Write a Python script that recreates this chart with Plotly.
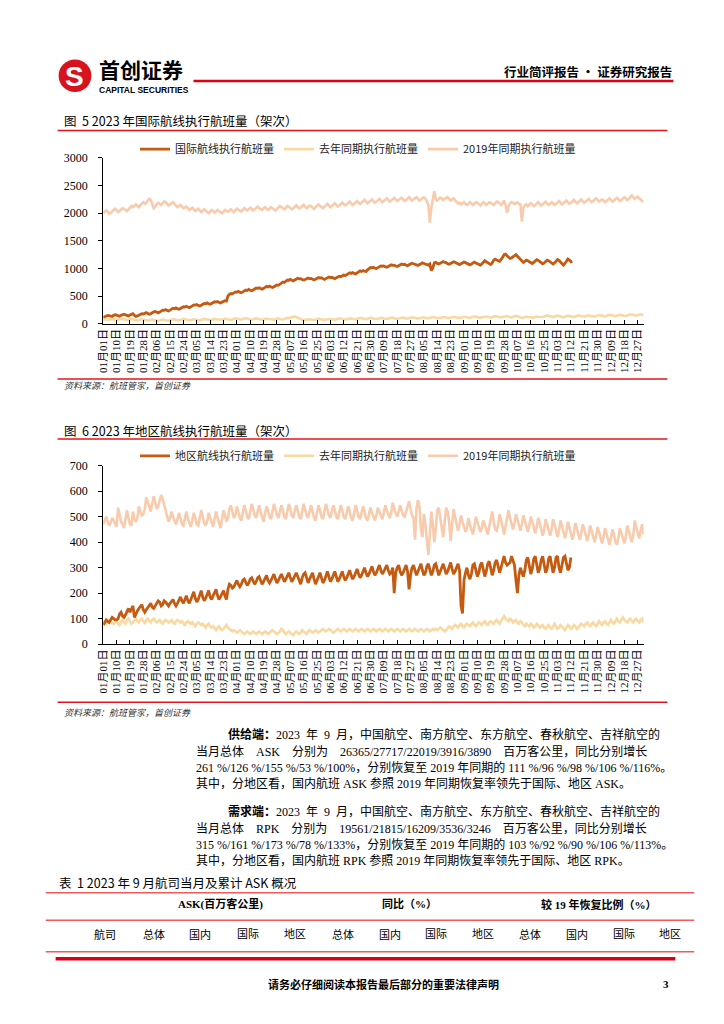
import plotly.graph_objects as go

# The page body has an 8px default margin; the figure is sized/offset so that
# page coordinates (x, y) in the 724x1024 screenshot map onto figure paper coords.
OFF = 8
FW, FH = 708, 1008
def px(x): return (x - OFF) / FW
def py(y): return 1 - (y - OFF) / FH

SERIF = "Liberation Serif, Noto Sans CJK SC"
CJK = "Noto Sans CJK SC"
NB = "\u00a0"

tick_labels = ["01月01日","01月10日","01月19日","01月28日","02月06日","02月15日","02月24日",
               "03月05日","03月14日","03月23日","04月01日","04月10日","04月19日","04月28日",
               "05月07日","05月16日","05月25日","06月03日","06月12日","06月21日","06月30日",
               "07月09日","07月18日","07月27日","08月05日","08月14日","08月23日","09月01日",
               "09月10日","09月19日","09月28日","10月07日","10月16日","10月25日","11月03日",
               "11月12日","11月21日","11月30日","12月09日","12月18日","12月27日"]
tick_days = [0,9,18,27,36,45,54,63,72,81,90,99,108,117,126,135,144,153,162,171,180,
             189,198,207,216,225,234,243,252,261,270,279,288,297,306,315,324,333,342,351,360]

# ---------- Figure 5: international routes (daily) ----------
intl_2023 = [115,125,140,150,145,135,130,
150,160,155,140,135,150,165,
170,160,145,140,155,175,180,
150,130,140,155,170,180,175,
190,200,185,170,180,205,215,
220,205,195,210,230,245,240,
255,240,230,245,265,280,270,
285,270,260,275,295,305,300,
315,300,290,305,325,340,335,
345,330,320,335,355,365,360,
375,360,350,365,385,395,390,
400,385,375,390,405,415,410,
500,530,545,540,560,575,570,
585,570,560,575,595,610,600,
620,605,595,610,630,645,640,
650,635,625,640,660,675,665,
680,665,655,670,690,700,695,
720,740,755,745,770,790,785,
800,785,775,790,810,820,810,
815,800,790,800,815,825,815,
820,805,795,805,820,835,825,
830,815,800,815,835,845,835,
840,825,815,830,850,860,850,
865,880,870,885,905,920,910,
925,910,900,920,940,955,945,
960,950,945,975,1000,1015,1010,
1020,1005,1000,1015,1035,1045,1040,
1045,1030,1020,1035,1055,1065,1055,
1060,1045,1035,1050,1070,1080,1070,
1075,1060,1050,1065,1085,1095,1085,
1080,1065,1055,1070,1090,1100,1090,
1085,1070,1060,1080,960,1010,1100,
1110,1090,1080,1095,1115,1125,1110,
1105,1085,1075,1090,1110,1120,1110,
1100,1080,1070,1085,1105,1115,1105,
1095,1075,1065,1080,1100,1115,1100,
1090,1070,1060,1080,1110,1140,1120,
1100,1080,1070,1100,1150,1170,1150,
1140,1130,1160,1200,1250,1260,1230,
1200,1180,1190,1210,1230,1250,1220,
1190,1150,1120,1110,1130,1150,1140,
1120,1100,1090,1110,1140,1160,1145,
1125,1100,1085,1100,1130,1150,1140,
1120,1095,1080,1100,1135,1160,1145,
1110,1080,1060,1090,1140,1170,1150,
1120,1130]

intl_lastyear = [80,75,70,65,70,80,85,
80,70,65,70,80,90,85,
75,70,65,70,80,85,80,
70,60,55,60,70,80,75,
65,60,55,60,70,75,70,
60,55,50,55,65,75,70,
60,55,50,60,70,80,75,
65,60,55,65,75,85,80,
70,65,60,65,75,80,75,
70,60,55,65,75,85,80,
75,65,60,65,75,85,80,
75,70,65,70,80,90,85,
75,70,65,75,85,95,90,
85,80,75,85,95,100,95,
80,75,70,80,90,95,90,
80,75,70,75,85,90,85,
80,70,65,70,80,90,95,
85,80,75,85,95,105,100,
105,115,125,130,120,105,90,
80,70,65,70,80,85,80,
75,70,65,70,80,90,85,
75,70,70,75,85,90,85,
80,75,70,80,90,95,90,
80,75,75,80,90,100,95,
85,80,75,85,95,105,100,
90,85,80,90,100,105,100,
90,85,85,90,100,110,105,
95,90,85,95,105,110,105,
95,90,90,95,105,115,110,
100,95,90,100,110,115,110,
100,95,95,100,110,120,115,
105,100,95,105,115,120,115,
105,100,100,105,115,125,120,
110,105,100,110,120,125,120,
110,105,105,110,120,130,125,
115,110,105,115,125,130,125,
115,110,110,115,125,135,130,
120,115,110,120,130,135,130,
120,115,115,120,130,140,135,
125,120,115,125,135,140,135,
120,110,105,110,120,125,120,
115,110,105,110,120,130,125,
120,115,120,130,140,150,145,
135,125,120,130,140,145,140,
130,120,115,125,135,145,140,
130,125,120,130,140,150,145,
135,130,125,135,145,150,145,
135,130,130,140,150,155,150,
140,135,130,140,150,160,155,
145,140,135,145,155,160,155,
145,140,140,150,160,170,165,
155,150,145,155,165,170,160,
150]

intl_2019 = [2000,2020,2050,2030,1990,2010,2040,
2060,2080,2050,2020,2040,2070,2090,
2080,2060,2040,2070,2100,2130,2110,
2140,2160,2130,2110,2150,2180,2200,
2170,2190,2230,2260,2240,2180,2090,
2120,2160,2190,2170,2150,2180,2210,
2200,2170,2140,2160,2190,2200,2170,
2140,2110,2130,2150,2120,2090,2100,
2120,2090,2060,2080,2100,2070,2040,
2060,2080,2050,2020,2040,2070,2050,
2020,2000,2030,2060,2040,2010,2030,
2060,2040,2010,2000,2030,2060,2040,
2030,2050,2070,2040,2020,2050,2080,
2060,2040,2030,2060,2090,2070,2050,
2070,2100,2080,2050,2070,2100,2120,
2090,2070,2060,2090,2110,2080,2060,
2080,2110,2090,2070,2050,2080,2110,
2130,2110,2080,2070,2100,2130,2120,
2090,2070,2090,2120,2140,2110,2090,
2100,2130,2150,2120,2090,2110,2140,
2130,2100,2080,2110,2140,2160,2130,
2110,2090,2120,2150,2170,2140,2110,
2130,2160,2180,2150,2120,2140,2170,
2190,2160,2140,2160,2190,2210,2180,
2150,2170,2200,2220,2190,2170,2190,
2220,2240,2210,2180,2200,2230,2250,
2220,2190,2210,2240,2260,2230,2200,
2220,2250,2270,2240,2210,2230,2260,
2280,2250,2220,2240,2270,2280,2250,
2220,2240,2270,2290,2260,2230,2250,
2270,2290,2260,2230,2250,2280,2290,
2260,2220,2150,1830,2100,2300,2400,
2250,2230,2260,2280,2270,2240,2260,
2280,2290,2260,2230,2250,2270,2240,
2200,2170,2190,2160,2180,2200,2170,
2150,2170,2200,2180,2150,2170,2200,
2190,2160,2140,2170,2200,2180,2150,
2170,2200,2190,2160,2150,2180,2210,
2200,2170,2150,2180,2230,2150,2010,
2120,2180,2200,2190,2170,2180,2200,
2170,2160,1850,2100,2150,2160,2130,
2150,2180,2160,2130,2150,2180,2200,
2170,2140,2160,2190,2210,2180,2150,
2170,2200,2180,2150,2170,2200,2220,
2190,2160,2180,2210,2230,2200,2170,
2190,2220,2240,2210,2180,2200,2230,
2250,2220,2190,2210,2240,2260,2230,
2200,2220,2250,2270,2240,2210,2230,
2250,2230,2200,2220,2250,2270,2240,
2210,2230,2260,2280,2250,2220,2240,
2260,2290,2270,2240,2260,2300,2320,
2290,2260,2280,2300,2270,2240,2220,
2210]

# ---------- Figure 6: regional routes (daily) ----------
reg_2023 = [75,85,95,90,85,95,105,
100,95,95,100,118,125,110,
105,115,130,140,125,135,150,
105,120,130,140,150,155,135,
125,135,145,150,160,145,140,
150,160,170,165,150,155,170,
165,155,150,160,170,175,160,
150,160,175,185,170,160,175,
190,170,160,175,195,205,180,
165,175,195,210,185,170,180,
200,210,185,175,190,205,215,
190,175,185,200,210,190,175,
215,235,230,220,225,240,250,
235,225,235,250,255,240,230,
240,255,260,245,235,245,260,
265,245,235,245,260,270,250,
240,250,265,275,255,240,250,
265,275,260,245,255,270,280,
260,245,255,270,280,265,250,
235,260,275,280,260,240,255,
270,280,255,235,250,270,280,
260,240,250,270,285,265,245,
255,275,285,265,245,255,275,
285,265,250,260,280,290,270,
255,265,285,295,275,260,270,
290,300,280,265,275,295,305,
285,270,280,300,310,290,275,
285,300,310,290,275,280,300,
200,280,300,310,285,270,280,
300,310,285,215,270,300,310,
285,270,285,305,315,290,270,
280,305,315,290,270,285,310,
315,290,270,285,305,315,295,
275,285,305,320,295,275,285,
305,315,290,150,120,250,280,
300,270,255,275,310,315,285,
265,280,310,320,290,265,285,
315,325,295,270,290,320,330,
300,280,300,330,345,320,310,
315,320,345,330,310,250,200,
270,300,280,265,290,330,340,
300,275,295,335,345,305,280,
295,330,345,310,280,295,335,
345,305,280,300,340,345,300,
280,305,340,345,310,290,300,
340]

reg_lastyear = [90,85,80,85,95,90,85,
80,85,90,80,75,90,95,
85,80,95,100,90,80,85,
95,100,90,85,95,100,90,
80,95,100,90,85,95,100,
90,85,90,95,85,80,90,
95,90,85,90,95,85,80,
90,95,90,85,90,80,75,
85,90,85,80,85,75,70,
80,85,80,75,80,70,65,
75,80,70,65,70,60,55,
65,70,60,55,60,70,75,
65,60,55,50,55,50,45,
50,55,50,45,40,45,50,
45,40,45,50,45,40,45,
50,45,40,45,50,45,40,
45,50,55,50,45,40,45,
50,60,55,45,40,45,50,
45,40,35,45,50,45,40,
45,55,50,45,40,50,55,
50,45,50,55,50,45,50,
55,60,55,50,55,60,55,
50,45,50,55,60,55,50,
55,60,55,50,55,60,55,
50,55,60,55,50,55,60,
55,50,55,60,55,50,55,
60,55,50,55,60,55,50,
55,60,55,50,55,60,55,
50,55,60,55,50,55,60,
55,50,55,60,55,50,55,
60,55,50,55,60,55,50,
55,60,55,50,55,60,55,
60,55,60,65,60,55,50,
55,65,70,65,60,70,75,
70,65,75,80,70,65,75,
80,75,70,80,85,75,70,
80,85,80,75,85,90,80,
75,85,90,85,80,90,95,
85,80,90,100,110,100,95,
90,100,95,85,90,95,85,
80,90,85,75,70,80,75,
70,80,75,65,70,80,75,
65,70,75,65,60,70,75,
65,60,70,80,70,60,65,
75,70,60,55,65,75,70,
60,65,75,70,60,65,75,
80,75,70,80,85,75,70,
80,85,75,70,80,90,80,
75,85,90,80,75,85,95,
85,80,90,100,90,85,95,
105,95,90,85,95,100,90,
85,95,100,90,85,95,100,
85]

reg_2019 = [470,490,500,480,465,475,495,
485,470,460,535,500,480,470,
455,490,525,495,470,465,520,
490,480,495,540,520,505,510,
530,575,560,540,520,545,580,
555,530,540,565,585,570,545,
520,500,480,495,520,500,480,
470,490,515,495,470,465,500,
520,490,470,460,485,515,495,
470,465,490,525,500,475,465,
480,515,495,470,460,490,520,
495,470,455,490,525,505,480,
495,530,545,515,495,505,540,
520,495,485,510,545,525,500,
490,515,550,530,505,495,520,
545,520,495,480,510,540,525,
500,490,515,550,530,505,495,
520,545,525,500,490,515,550,
530,505,495,520,545,525,500,
490,515,550,530,505,495,520,
545,520,495,485,510,545,525,
500,490,515,550,530,505,495,
520,545,525,500,490,515,545,
525,500,490,510,540,520,495,
485,510,545,525,500,490,515,
540,520,495,485,510,535,515,
495,485,505,535,520,500,490,
515,545,525,505,495,515,555,
530,510,500,520,545,525,505,
500,520,540,560,530,505,495,
410,530,565,540,450,420,510,
470,400,350,430,520,470,400,
450,525,535,500,470,420,480,
535,520,480,405,470,530,500,
470,445,470,505,480,455,440,
455,495,470,445,430,460,500,
480,455,440,455,485,470,445,
430,460,500,520,480,450,445,
470,510,490,460,430,465,505,
525,495,465,450,475,510,490,
460,445,470,505,485,455,440,
465,500,480,450,435,460,495,
475,445,425,450,490,470,440,
425,450,490,470,440,420,445,
485,465,435,415,440,480,460,
430,410,435,475,455,425,410,
435,470,450,420,405,430,465,
445,415,400,425,460,440,410,
395,420,455,435,405,390,415,
450,430,400,390,415,455,435,
405,395,420,465,445,415,400,
425,485,460,430,415,445,470,
430]

COL_MAIN = "#C55A11"
COL_LAST = "#F8D9A1"
COL_2019 = "#F8CBAD"

names1 = ["国际航线执行航班量", "去年同期执行航班量", "2019年同期执行航班量"]
names2 = ["地区航线执行航班量", "去年同期执行航班量", "2019年同期执行航班量"]

fig = go.Figure()

def add_chart(main, last, y19, names, xa, ya, leg):
    fig.add_trace(go.Scatter(x=list(range(len(y19))), y=y19, mode="lines", name=names[2],
                             line=dict(color=COL_2019, width=2.6), xaxis=xa, yaxis=ya,
                             legend=leg, legendrank=3, hoverinfo="skip"))
    fig.add_trace(go.Scatter(x=list(range(len(last))), y=last, mode="lines", name=names[1],
                             line=dict(color=COL_LAST, width=2.6), xaxis=xa, yaxis=ya,
                             legend=leg, legendrank=2, hoverinfo="skip"))
    fig.add_trace(go.Scatter(x=list(range(len(main))), y=main, mode="lines", name=names[0],
                             line=dict(color=COL_MAIN, width=2.8), xaxis=xa, yaxis=ya,
                             legend=leg, legendrank=1, hoverinfo="skip"))

add_chart(intl_2023, intl_lastyear, intl_2019, names1, "x", "y", "legend")
add_chart(reg_2023, reg_lastyear, reg_2019, names2, "x2", "y2", "legend2")

xaxis_common = dict(range=[0, 364], tickmode="array", tickvals=tick_days, ticktext=tick_labels,
                    tickangle=-90, ticks="inside", ticklen=4, tickcolor="#000", tickwidth=1,
                    showline=True, linecolor="#000", linewidth=1, showgrid=False, zeroline=False,
                    tickfont=dict(family=SERIF, size=11, color="#000"), fixedrange=True)
yaxis_common = dict(ticks="outside", ticklen=4, tickcolor="#000", tickwidth=1, showline=True,
                    linecolor="#000", linewidth=1, showgrid=False, zeroline=False,
                    ticklabelstandoff=8,
                    tickfont=dict(family=SERIF, size=12, color="#000"), fixedrange=True)

legend_common = dict(orientation="h", xanchor="left", yanchor="middle", itemwidth=30,
                     bgcolor="rgba(0,0,0,0)", itemclick=False, itemdoubleclick=False,
                     font=dict(family=CJK, size=11, color="#222"), traceorder="normal")

fig.update_layout(
    width=FW, height=FH, margin=dict(l=0, r=0, t=0, b=0),
    paper_bgcolor="white", plot_bgcolor="white", showlegend=True,
    xaxis=dict(domain=[px(98), px(643)], anchor="y", **xaxis_common),
    yaxis=dict(domain=[py(321), py(153)], anchor="x", range=[0, 3000], dtick=500, **yaxis_common),
    xaxis2=dict(domain=[px(98), px(643)], anchor="y2", **xaxis_common),
    yaxis2=dict(domain=[py(646), py(465)], anchor="x2", range=[0, 700], dtick=100, **yaxis_common),
    legend=dict(x=px(130), y=py(144), **legend_common),
    legend2=dict(x=px(130), y=py(455), **legend_common),
)

def txt(x, y, s, size=12, xanchor="left", family=CJK, color="#000", weight="normal", style="normal"):
    fig.add_annotation(x=px(x), y=py(y), xref="paper", yref="paper", text=s, showarrow=False,
                       xanchor=xanchor, yanchor="middle", borderpad=0,
                       font=dict(size=size, family=family, color=color, weight=weight, style=style))

def hline(x0, x1, y, color="#E3141B", width=1.5):
    fig.add_shape(type="line", xref="paper", yref="paper", x0=px(x0), x1=px(x1), y0=py(y), y1=py(y),
                  line=dict(color=color, width=width))

# header
fig.add_shape(type="circle", xref="paper", yref="paper", x0=px(53), x1=px(86), y0=py(86), y1=py(53),
              fillcolor="#D7141E", line=dict(width=0))
txt(69.5, 70, "S", size=28, xanchor="center", family="Liberation Sans", color="white", weight="bold")
txt(93, 63, "首创证券", size=21, family=CJK, weight="bold")
txt(93, 84, "CAPITAL SECURITIES", size=8.5, family="Liberation Sans", weight="bold")
hline(189, 673, 75, color="#E00012", width=2.5)
txt(673, 65, "行业简评报告 · 证券研究报告", size=12.5, xanchor="right", weight="bold")

# figure 5
txt(57, 115, "图  5 2023 年国际航线执行航班量（架次）", size=12.5)
hline(52, 667, 125)
hline(52, 667, 377)
txt(57, 384, "资料来源：航班管家，首创证券", size=9, color="#333", style="italic")

# figure 6
txt(57, 429, "图  6 2023 年地区航线执行航班量（架次）", size=12.5)
hline(52, 667, 438)
hline(52, 667, 705)
txt(57, 715, "资料来源：航班管家，首创证券", size=9, color="#333", style="italic")

# body text
P = 12
G = NB * 4
S2 = NB * 2
txt(223, 738, "<b>供给端：</b>2023" + S2 + "年" + S2 + "9" + S2 + "月，中国航空、南方航空、东方航空、春秋航空、吉祥航空的", size=P, family=SERIF)
txt(191, 754.5, "当月总体" + G + "ASK" + G + "分别为" + G + "26365/27717/22019/3916/3890" + G + "百万客公里，同比分别增长", size=P, family=SERIF)
txt(191, 771, "261 %/126 %/155 %/53 %/100%，分别恢复至 2019 年同期的 111 %/96 %/98 %/106 %/116%。", size=P, family=SERIF)
txt(191, 787.5, "其中，分地区看，国内航班 ASK 参照 2019 年同期恢复率领先于国际、地区 ASK。", size=P, family=SERIF)
txt(223, 816, "<b>需求端：</b>2023" + S2 + "年" + S2 + "9" + S2 + "月，中国航空、南方航空、东方航空、春秋航空、吉祥航空的", size=P, family=SERIF)
txt(191, 832.5, "当月总体" + G + "RPK" + G + "分别为" + G + "19561/21815/16209/3536/3246" + G + "百万客公里，同比分别增长", size=P, family=SERIF)
txt(191, 849, "315 %/161 %/173 %/78 %/133%，分别恢复至 2019 年同期的 103 %/92 %/90 %/106 %/113%。", size=P, family=SERIF)
txt(191, 865.5, "其中，分地区看，国内航班 RPK 参照 2019 年同期恢复率领先于国际、地区 RPK。", size=P, family=SERIF)

# table header
txt(52, 888, "表  1 2023 年 9 月航司当月及累计 ASK 概况", size=12.5)
hline(40, 694, 898, color="#F05A5A", width=1.5)
txt(216, 910, "ASK(百万客公里)", size=11, xanchor="center", family=SERIF, weight="bold")
txt(407, 910, "同比（%）", size=11, xanchor="center", family=SERIF, weight="bold")
txt(598, 910, "较 19 年恢复比例（%）", size=11, xanchor="center", family=SERIF, weight="bold")
hline(40, 694, 926, color="#F05A5A", width=1.5)
cols = ["航司", "总体", "国内", "国际", "地区", "总体", "国内", "国际", "地区", "总体", "国内", "国际", "地区"]
col_x = [100, 149, 196, 244, 291, 340, 387, 434, 481, 528, 576, 623, 670]
for cx, c in zip(col_x, cols):
    txt(cx, 940, c, size=11, xanchor="center", family=SERIF)
hline(40, 694, 958, color="#F05A5A", width=1.5)

# footer
hline(50, 675, 965, color="#D9001B", width=3.5)
txt(381, 991, "请务必仔细阅读本报告最后部分的重要法律声明", size=11, xanchor="center", weight="bold")
txt(670, 991, "3", size=11, xanchor="right", family=SERIF, weight="bold")

fig.write_html("out.html")
